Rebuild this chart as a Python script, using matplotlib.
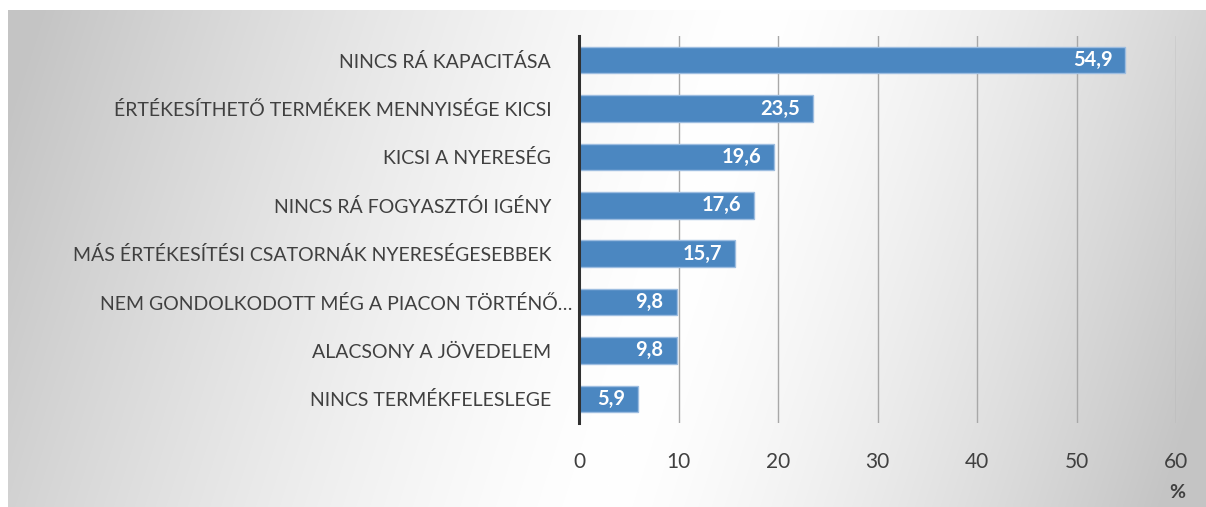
import numpy as np
import matplotlib
matplotlib.use('Agg')
import matplotlib.pyplot as plt

plt.rcParams['font.family'] = ['Lato', 'DejaVu Sans']

categories = ['NINCS RÁ KAPACITÁSA',
              'ÉRTÉKESÍTHETŐ TERMÉKEK MENNYISÉGE KICSI',
              'KICSI A NYERESÉG',
              'NINCS RÁ FOGYASZTÓI IGÉNY',
              'MÁS ÉRTÉKESÍTÉSI CSATORNÁK NYERESÉGESEBBEK',
              'NEM GONDOLKODOTT MÉG A PIACON TÖRTÉNŐ…',
              'ALACSONY A JÖVEDELEM',
              'NINCS TERMÉKFELESLEGE']
values = [54.9, 23.5, 19.6, 17.6, 15.7, 9.8, 9.8, 5.9]
xticks = [0, 10, 20, 30, 40, 50, 60]

W, H = 1206, 507
fig = plt.figure(figsize=(W / 100, H / 100), dpi=100)

# background gradient (white band slanting down to the left, grey at the sides)
bg = fig.add_axes([0, 0, 1, 1])
yy, xx = np.mgrid[0:H, 0:W]
u = xx - (760 - 0.32 * (yy - 10))
t = np.where(u < 0, -u / 720.0, u / 560.0)
t = np.clip(t, 0, 1) ** 1.4
v = 1 - 0.23 * t
img = np.dstack([v, v, v])
img[:10, :, :] = 1
img[:, :8, :] = 1
bg.imshow(img, extent=[0, W, H, 0], aspect='auto', interpolation='bilinear')
bg.set_xlim(0, W)
bg.set_ylim(H, 0)
bg.axis('off')

ax = fig.add_axes([579 / W, 1 - 423 / H, (1176 - 579) / W, (423 - 36) / H])
ax.patch.set_alpha(0)
y = np.arange(len(categories))
ax.barh(y, values, height=0.55, color='#4b87c1', edgecolor='#9dbde0', linewidth=1, zorder=3)
for yi, val in zip(y, values):
    ax.text(val - 1.3, yi, f'{val:.1f}'.replace('.', ','), ha='right', va='center',
            color='white', fontsize=14.5, fontweight='bold', zorder=4)

ax.set_ylim(len(categories) - 0.5, -0.5)
ax.set_xlim(0, 60)
ax.set_xticks(xticks)
ax.set_yticks(y)
ax.set_yticklabels(categories, fontsize=14, color='#404040')
ax.tick_params(axis='y', length=0, pad=20)
ax.yaxis.get_major_ticks()[5].set_pad(5)
ax.tick_params(axis='x', length=0, pad=21, labelsize=15, labelcolor='#404040')
ax.grid(axis='x', color='#a8a8a8', linewidth=1, zorder=0)
for s in ['top', 'right', 'bottom']:
    ax.spines[s].set_visible(False)
ax.spines['left'].set_color('#303030')
ax.spines['left'].set_linewidth(2.2)
ax.spines['left'].set_zorder(5)

fig.text(1177 / W, 1 - 493 / H, '%', ha='center', va='center', fontsize=14,
         fontweight='bold', color='#404040')

plt.savefig('out.png', dpi=100)
